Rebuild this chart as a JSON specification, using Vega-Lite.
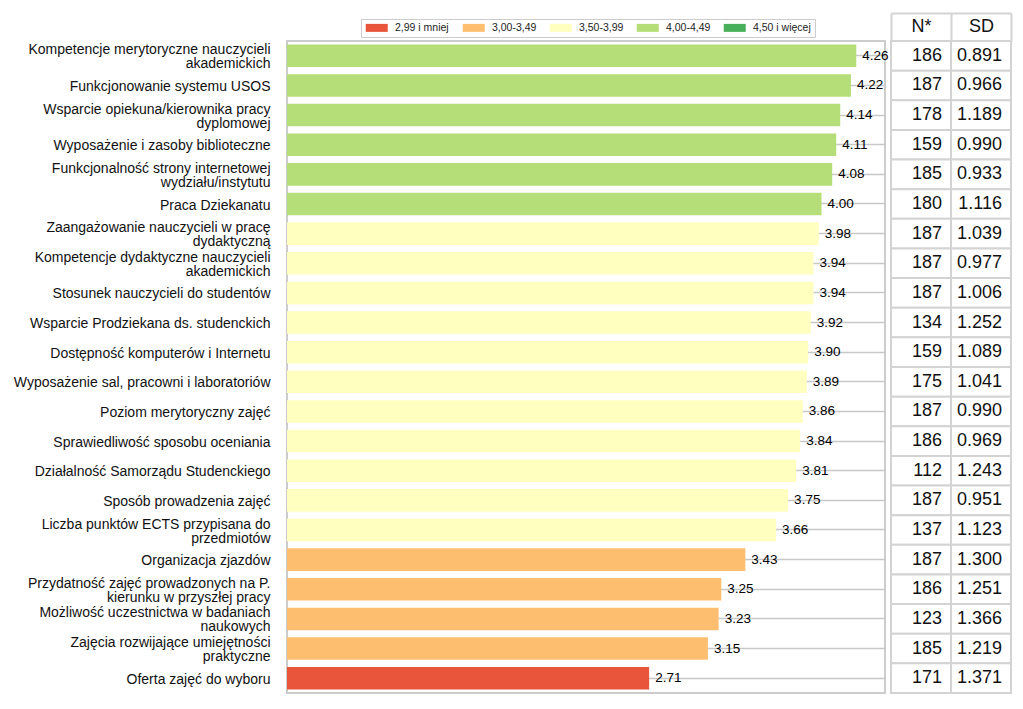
{
  "$schema": "https://vega.github.io/schema/vega-lite/v6.json",
  "background": "white",
  "padding": {"left": 12, "top": 12, "right": 10, "bottom": 14},
  "bounds": "flush",
  "spacing": 6,
  "config": {
    "font": "Liberation Sans",
    "text": {"font": "Liberation Sans"}
  },
  "data": {
    "values": [
      {"name": "Kompetencje merytoryczne nauczycieli\nakademickich", "mean": 4.26, "N": 186, "SD": 0.891, "przedzial": "4,00-4,49"},
      {"name": "Funkcjonowanie systemu USOS", "mean": 4.22, "N": 187, "SD": 0.966, "przedzial": "4,00-4,49"},
      {"name": "Wsparcie opiekuna/kierownika pracy\ndyplomowej", "mean": 4.14, "N": 178, "SD": 1.189, "przedzial": "4,00-4,49"},
      {"name": "Wyposażenie i zasoby biblioteczne", "mean": 4.11, "N": 159, "SD": 0.990, "przedzial": "4,00-4,49"},
      {"name": "Funkcjonalność strony internetowej\nwydziału/instytutu", "mean": 4.08, "N": 185, "SD": 0.933, "przedzial": "4,00-4,49"},
      {"name": "Praca Dziekanatu", "mean": 4.00, "N": 180, "SD": 1.116, "przedzial": "4,00-4,49"},
      {"name": "Zaangażowanie nauczycieli w pracę\ndydaktyczną", "mean": 3.98, "N": 187, "SD": 1.039, "przedzial": "3,50-3,99"},
      {"name": "Kompetencje dydaktyczne nauczycieli\nakademickich", "mean": 3.94, "N": 187, "SD": 0.977, "przedzial": "3,50-3,99"},
      {"name": "Stosunek nauczycieli do studentów", "mean": 3.94, "N": 187, "SD": 1.006, "przedzial": "3,50-3,99"},
      {"name": "Wsparcie Prodziekana ds. studenckich", "mean": 3.92, "N": 134, "SD": 1.252, "przedzial": "3,50-3,99"},
      {"name": "Dostępność komputerów i Internetu", "mean": 3.90, "N": 159, "SD": 1.089, "przedzial": "3,50-3,99"},
      {"name": "Wyposażenie sal, pracowni i laboratoriów", "mean": 3.89, "N": 175, "SD": 1.041, "przedzial": "3,50-3,99"},
      {"name": "Poziom merytoryczny zajęć", "mean": 3.86, "N": 187, "SD": 0.990, "przedzial": "3,50-3,99"},
      {"name": "Sprawiedliwość sposobu oceniania", "mean": 3.84, "N": 186, "SD": 0.969, "przedzial": "3,50-3,99"},
      {"name": "Działalność Samorządu Studenckiego", "mean": 3.81, "N": 112, "SD": 1.243, "przedzial": "3,50-3,99"},
      {"name": "Sposób prowadzenia zajęć", "mean": 3.75, "N": 187, "SD": 0.951, "przedzial": "3,50-3,99"},
      {"name": "Liczba punktów ECTS przypisana do\nprzedmiotów", "mean": 3.66, "N": 137, "SD": 1.123, "przedzial": "3,50-3,99"},
      {"name": "Organizacja zjazdów", "mean": 3.43, "N": 187, "SD": 1.300, "przedzial": "3,00-3,49"},
      {"name": "Przydatność zajęć prowadzonych na P.\nkierunku w przyszłej pracy", "mean": 3.25, "N": 186, "SD": 1.251, "przedzial": "3,00-3,49"},
      {"name": "Możliwość uczestnictwa w badaniach\nnaukowych", "mean": 3.23, "N": 123, "SD": 1.366, "przedzial": "3,00-3,49"},
      {"name": "Zajęcia rozwijające umiejętności\npraktyczne", "mean": 3.15, "N": 185, "SD": 1.219, "przedzial": "3,00-3,49"},
      {"name": "Oferta zajęć do wyboru", "mean": 2.71, "N": 171, "SD": 1.371, "przedzial": "2,99 i mniej"}
    ]
  },
  "hconcat": [
    {
      "width": 598,
      "height": 652,
      "view": {"stroke": "#cccccc", "strokeWidth": 2, "fill": "white"},
      "encoding": {
        "y": {
          "field": "name",
          "type": "nominal",
          "sort": null,
          "scale": {"paddingInner": 0.24, "paddingOuter": 0.12},
          "axis": {
            "title": null,
            "domain": false,
            "ticks": false,
            "grid": true,
            "tickBand": "center",
            "gridColor": "#c8c8c8",
            "gridWidth": 1.5,
            "labelFont": "Liberation Sans",
            "labelFontSize": 14,
            "labelColor": "#111111",
            "labelPadding": 17,
            "labelLimit": 400,
            "labelLineHeight": 14,
            "labelOffset": {"condition": {"test": "indexof(datum.value, '\\n') >= 0", "value": -5.5}, "value": 1.5},
            "labelExpr": "split(datum.label, '\\n')"
          }
        }
      },
      "layer": [
        {
          "mark": {"type": "bar"},
          "encoding": {
            "x": {
              "field": "mean",
              "type": "quantitative",
              "scale": {"domain": [0, 4.475], "nice": false},
              "axis": null
            },
            "color": {
              "field": "przedzial",
              "type": "nominal",
              "scale": {
                "domain": ["2,99 i mniej", "3,00-3,49", "3,50-3,99", "4,00-4,49", "4,50 i więcej"],
                "range": ["#e8553a", "#fdbf6f", "#ffffc0", "#b5de78", "#48b05a"]
              },
              "legend": {
                "orient": "none",
                "legendX": 74,
                "legendY": -22,
                "direction": "horizontal",
                "title": null,
                "symbolType": "M-1,-1H4.5V1H-1Z",
                "symbolSize": 64,
                "symbolStrokeWidth": 0,
                "symbolOpacity": 1,
                "labelFont": "Liberation Sans",
                "labelFontSize": 10.5,
                "labelColor": "#222222",
                "labelOffset": 20,
                "columnPadding": 12,
                "padding": 3.5,
                "strokeColor": "#cccccc",
                "fillColor": "white"
              }
            }
          }
        },
        {
          "mark": {"type": "text", "align": "left", "baseline": "middle", "dx": 6, "fontSize": 13.5, "color": "#000000", "font": "Liberation Sans"},
          "encoding": {
            "x": {"field": "mean", "type": "quantitative"},
            "text": {"field": "mean", "type": "quantitative", "format": ".2f"}
          }
        }
      ]
    },
    {
      "width": 120,
      "height": 652,
      "view": {"stroke": null},
      "encoding": {
        "y": {
          "field": "name",
          "type": "nominal",
          "sort": null,
          "scale": {"paddingInner": 0, "paddingOuter": 0},
          "axis": null
        }
      },
      "layer": [
        {
          "mark": {"type": "rect", "fill": "white", "stroke": "#d3d3d3", "strokeWidth": 2},
          "encoding": {
            "x": {
              "datum": "N*",
              "type": "nominal",
              "scale": {"domain": ["N*", "SD"], "paddingInner": 0, "paddingOuter": 0},
              "axis": {
                "orient": "top",
                "title": null,
                "offset": 28,
                "labelAngle": 0,
                "tickBand": "extent",
                "tickSize": -28,
                "tickColor": "#d3d3d3",
                "tickWidth": 2,
                "domainColor": "#d3d3d3",
                "domainWidth": 2,
                "labelFont": "Liberation Sans",
                "labelFontSize": 18,
                "labelColor": "#111111",
                "labelPadding": 6
              }
            }
          }
        },
        {
          "mark": {"type": "rect", "fill": "white", "stroke": "#d3d3d3", "strokeWidth": 2},
          "encoding": {"x": {"datum": "SD", "type": "nominal"}}
        },
        {
          "mark": {"type": "text", "align": "right", "baseline": "middle", "dx": 21, "fontSize": 18, "color": "#111111", "font": "Liberation Sans"},
          "encoding": {
            "x": {"datum": "N*", "type": "nominal"},
            "text": {"field": "N", "type": "quantitative", "format": "d"}
          }
        },
        {
          "mark": {"type": "text", "align": "right", "baseline": "middle", "dx": 21, "fontSize": 18, "color": "#111111", "font": "Liberation Sans"},
          "encoding": {
            "x": {"datum": "SD", "type": "nominal"},
            "text": {"field": "SD", "type": "quantitative", "format": ".3f"}
          }
        }
      ]
    }
  ]
}
